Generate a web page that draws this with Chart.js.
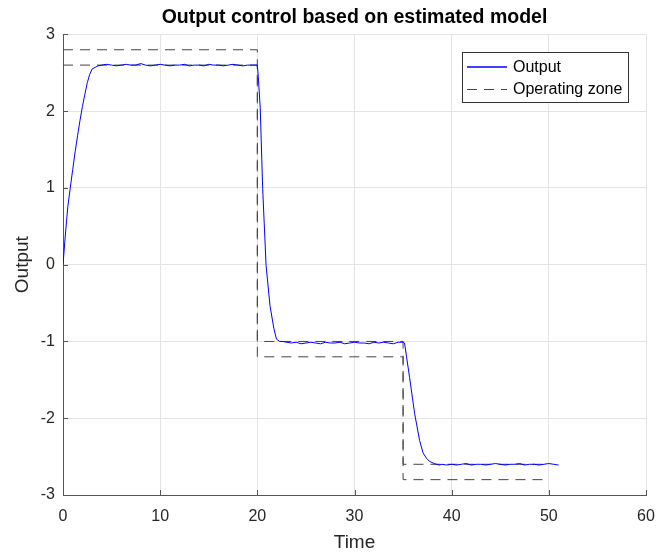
<!DOCTYPE html>
<html>
<head>
<meta charset="utf-8">
<style>
  body { margin: 0; background: #fff; }
  #wrap { width: 667px; height: 552px; }
</style>
</head>
<body>
<div id="wrap"><canvas id="outChart" width="667" height="552"></canvas></div>

<script src="https://cdn.jsdelivr.net/npm/chart.js"></script>
<script>
const timeVals = [
    0, 0.25, 0.5, 0.75, 1.0, 1.25, 1.5, 1.75, 2.0, 2.25, 2.5, 2.75, 3.0, 3.3, 3.6,
    4, 4.5, 5, 5.5, 6, 6.5, 7, 7.5, 8, 8.5, 9, 9.5, 10, 10.5, 11, 11.5,
    12, 12.5, 13, 13.5, 14, 14.5, 15, 15.5, 16, 16.5, 17, 17.5, 18, 18.5,
    19, 19.5, 20,
    20.1, 20.3, 20.55, 20.9, 21.3, 21.7, 21.97, 22.3, 22.6,
    23, 23.5, 24, 24.5, 25, 25.5, 26, 26.5, 27, 27.5, 28, 28.5, 29, 29.5,
    30, 30.5, 31, 31.5, 32, 32.5, 33, 33.5, 34, 34.5, 35,
    35.15, 35.67, 36.19, 36.7, 37.05, 37.4, 37.7, 38.2, 38.7,
    39, 39.5, 40, 40.5, 41, 41.5, 42, 42.5, 43, 43.5, 44, 44.5, 45, 45.5,
    46, 46.5, 47, 47.5, 48, 48.5, 49, 49.5, 50, 50.5, 51
];
const outputVals = [
    0, 0.40, 0.76, 1.00, 1.24, 1.47, 1.68, 1.88, 2.06, 2.22, 2.37, 2.48, 2.55, 2.57, 2.59,
    2.60, 2.61, 2.60, 2.59, 2.60, 2.61, 2.60, 2.60, 2.62, 2.60, 2.59, 2.60, 2.61, 2.60, 2.59, 2.60,
    2.60, 2.61, 2.59, 2.60, 2.60, 2.59, 2.61, 2.60, 2.60, 2.59, 2.60, 2.61, 2.60, 2.59,
    2.60, 2.60, 2.60,
    2.45, 2.04, 0.99, -0.01, -0.53, -0.83, -0.97, -1.00, -1.00,
    -1.01, -1.02, -1.01, -1.03, -1.02, -1.01, -1.02, -1.03, -1.01, -1.02, -1.02, -1.01, -1.03, -1.02,
    -1.01, -1.02, -1.02, -1.03, -1.01, -1.02, -1.01, -1.02, -1.03, -1.01, -1.01,
    -1.02, -1.47, -1.94, -2.29, -2.45, -2.52, -2.56, -2.59, -2.61,
    -2.60, -2.61, -2.60, -2.61, -2.60, -2.59, -2.61, -2.60, -2.60, -2.61, -2.60, -2.59, -2.60, -2.61,
    -2.60, -2.60, -2.59, -2.61, -2.60, -2.60, -2.61, -2.60, -2.59, -2.60, -2.61
];

// Operating zone bounds
const zoneTime = [0, 20, 20, 35, 35, 50];
const zoneUpper = [2.8, 2.8, -1.0, -1.0, -2.6, -2.6];
const zoneLower = [2.6, 2.6, -1.2, -1.2, -2.8, -2.8];

const xTicks = [0, 10, 20, 30, 40, 50, 60];
const yTicks = [-3, -2, -1, 0, 1, 2, 3];

const FONT = '"Liberation Sans", Arial, Helvetica, sans-serif';
const TEXT = '#262626';

// one dataset for the zone, upper and lower split by a gap
const zonePoints = zoneTime.map((t, i) => ({ x: t, y: zoneUpper[i] }))
    .concat([{ x: 50, y: null }])
    .concat(zoneTime.map((t, i) => ({ x: t, y: zoneLower[i] })));

// MATLAB style: ticks inside the axes, plus boxed legend
const matlabBits = {
    id: 'matlabBits',
    afterDraw(chart) {
        const ctx = chart.ctx;
        const a = chart.chartArea;
        const xs = chart.scales.x, ys = chart.scales.y;
        ctx.save();
        ctx.strokeStyle = '#555';
        ctx.lineWidth = 1;
        ctx.beginPath();
        xTicks.forEach(v => {
            const px = Math.round(xs.getPixelForValue(v)) + 0.5;
            ctx.moveTo(px, a.bottom);
            ctx.lineTo(px, a.bottom - 5);
        });
        yTicks.forEach(v => {
            const py = Math.round(ys.getPixelForValue(v)) + 0.5;
            ctx.moveTo(a.left, py);
            ctx.lineTo(a.left + 5, py);
        });
        ctx.stroke();

        // legend
        const lx = 462.5, ly = 52.5, lw = 166, lh = 50;
        ctx.fillStyle = '#fff';
        ctx.fillRect(lx, ly, lw, lh);
        ctx.strokeStyle = '#333';
        ctx.strokeRect(lx, ly, lw, lh);

        ctx.lineWidth = 1.3;
        ctx.strokeStyle = '#0000ff';
        ctx.beginPath();
        ctx.moveTo(467, 67);
        ctx.lineTo(507, 67);
        ctx.stroke();

        ctx.lineWidth = 1;
        ctx.strokeStyle = '#444';
        ctx.setLineDash([10, 7]);
        ctx.beginPath();
        ctx.moveTo(467, 89.5);
        ctx.lineTo(507, 89.5);
        ctx.stroke();
        ctx.setLineDash([]);

        ctx.fillStyle = '#000';
        ctx.font = '16px ' + FONT;
        ctx.textBaseline = 'middle';
        ctx.fillText('Output', 513, 68);
        ctx.fillText('Operating zone', 513, 90);
        ctx.restore();
    }
};

const ctx = document.getElementById('outChart').getContext('2d');
new Chart(ctx, {
    type: 'line',
    data: {
        datasets: [
            {
                label: 'Output',
                data: timeVals.map((t, i) => ({ x: t, y: outputVals[i] })),
                borderColor: '#0000ff',
                borderWidth: 1,
                pointRadius: 0,
                tension: 0,
                fill: false
            },
            {
                label: 'Operating zone',
                data: zonePoints,
                borderColor: '#444',
                borderWidth: 1,
                borderDash: [10, 7],
                pointRadius: 0,
                spanGaps: false,
                fill: false
            }
        ]
    },
    options: {
        responsive: false,
        animation: false,
        devicePixelRatio: 1,
        layout: {
            padding: { left: 6, right: 21, top: 0, bottom: 0 }
        },
        plugins: {
            legend: { display: false },
            tooltip: { enabled: false },
            title: {
                display: true,
                fullSize: false,
                text: 'Output control based on estimated model',
                color: '#000',
                font: { family: FONT, size: 19.5, weight: 'bold' },
                padding: { top: 6, bottom: 5 }
            }
        },
        scales: {
            x: {
                type: 'linear',
                min: 0,
                max: 60,
                afterBuildTicks: axis => { axis.ticks = xTicks.map(v => ({ value: v })); },
                afterFit: axis => { axis.height = 57; },
                ticks: {
                    color: TEXT,
                    font: { family: FONT, size: 16 },
                    padding: 12
                },
                grid: { color: '#e3e3e3', drawTicks: false },
                border: { color: '#555', width: 1 },
                title: {
                    display: true,
                    text: 'Time',
                    color: TEXT,
                    font: { family: FONT, size: 19 },
                    padding: { top: 0, bottom: -2 }
                }
            },
            y: {
                type: 'linear',
                min: -3,
                max: 3,
                afterBuildTicks: axis => { axis.ticks = yTicks.map(v => ({ value: v })); },
                afterFit: axis => { axis.width = 57; },
                ticks: {
                    color: TEXT,
                    font: { family: FONT, size: 16 },
                    padding: 8
                },
                grid: { color: '#e3e3e3', drawTicks: false },
                border: { color: '#555', width: 1 },
                title: {
                    display: true,
                    text: 'Output',
                    color: TEXT,
                    font: { family: FONT, size: 19 },
                    padding: { top: 5, bottom: 0 }
                }
            }
        }
    },
    plugins: [matlabBits]
});
</script>
</body>
</html>
